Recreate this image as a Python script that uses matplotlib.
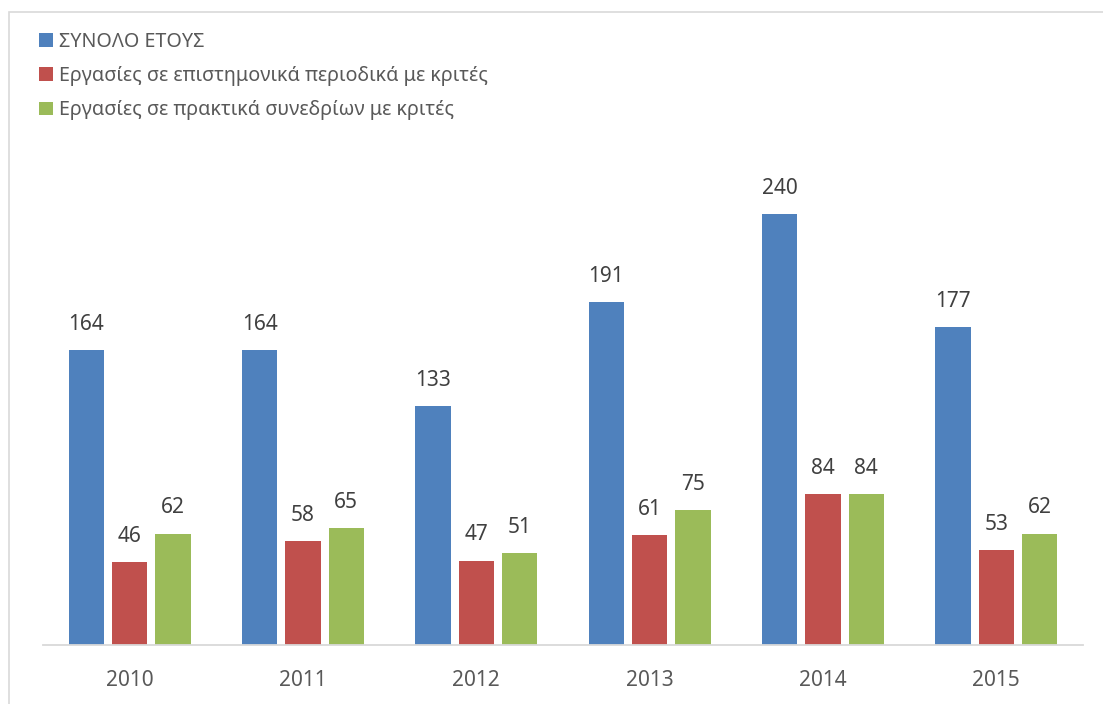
import matplotlib
matplotlib.use("Agg")
import matplotlib.pyplot as plt
from matplotlib.patches import Rectangle
import numpy as np

years = ["2010", "2011", "2012", "2013", "2014", "2015"]
total = [164, 164, 133, 191, 240, 177]
journals = [46, 58, 47, 61, 84, 53]
conferences = [62, 65, 51, 75, 84, 62]

series_labels = [
    "ΣΥΝΟΛΟ ΕΤΟΥΣ",
    "Εργασίες σε επιστημονικά περιοδικά με κριτές",
    "Εργασίες σε πρακτικά συνεδρίων με κριτές",
]
colors = ["#4F81BD", "#C0504D", "#9BBB59"]

plt.rcParams["font.family"] = ["Noto Sans", "DejaVu Sans"]

W, H = 1103, 704
fig = plt.figure(figsize=(W / 100, H / 100), dpi=100)

# chart frame
fig.patches.append(Rectangle((9 / W, -0.1), 1.2, (H - 12) / H + 0.1,
                             transform=fig.transFigure, fill=False,
                             edgecolor="#D9D9D9", linewidth=1.2))

ax_left, ax_right = 43, 1083
ax_bottom, ax_top = 645, 140
ax = fig.add_axes([ax_left / W, (H - ax_bottom) / H,
                   (ax_right - ax_left) / W, (ax_bottom - ax_top) / H])
ax.set_xlim(-0.5, len(years) - 0.5)
ax.set_ylim(0, (ax_bottom - ax_top) / 1.796)

x = np.arange(len(years))
width = 0.205
offsets = [-0.25, 0.0, 0.25]
handles = []
for vals, off, c, lab in zip([total, journals, conferences], offsets, colors, series_labels):
    bars = ax.bar(x + off, vals, width, color=c, label=lab, zorder=2)
    handles.append(bars)
    for xi, v in zip(x, vals):
        ax.annotate(str(v), (xi + off, v), xytext=(0, 11), textcoords="offset points",
                    ha="center", va="bottom", fontsize=15, color="#404040")

for s in ["top", "right", "left"]:
    ax.spines[s].set_visible(False)
ax.spines["bottom"].set_color("#D9D9D9")
ax.spines["bottom"].set_linewidth(1.3)
ax.set_yticks([])
ax.set_xticks(x)
ax.set_xticklabels(years, fontsize=15, color="#595959")
ax.tick_params(axis="x", length=0, pad=18)

fig.legend(handles=handles, labels=series_labels, loc="upper left",
           bbox_to_anchor=(39 / W, 1 - 32 / H), bbox_transform=fig.transFigure,
           frameon=False, fontsize=14.2, labelcolor="#595959",
           handlelength=0.7, handleheight=0.7, handletextpad=0.3,
           labelspacing=0.72, borderaxespad=0, borderpad=0)

fig.savefig("out.png", dpi=100)
